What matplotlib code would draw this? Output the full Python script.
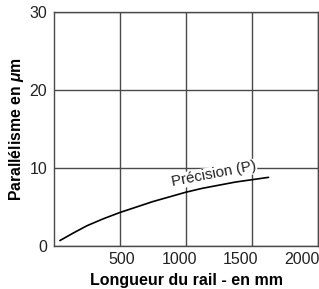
import matplotlib
matplotlib.use("Agg")
import matplotlib.pyplot as plt
import matplotlib.transforms as mtransforms

# courbe de précision
longueur = [45, 150, 250, 375, 500, 625, 750, 875, 1000, 1125, 1250, 1375, 1500, 1625]
parallelisme = [0.7, 1.7, 2.6, 3.5, 4.3, 5.0, 5.7, 6.3, 6.9, 7.4, 7.8, 8.2, 8.5, 8.8]

x_ticks = [500, 1000, 1500, 2000]
y_ticks = [0, 10, 20, 30]

plt.rcParams['font.family'] = ['Liberation Sans', 'DejaVu Sans']
plt.rcParams['mathtext.fontset'] = 'custom'
plt.rcParams['mathtext.it'] = 'Liberation Sans:italic:bold'

fig = plt.figure(figsize=(3.19, 2.89), dpi=100)
ax = fig.add_axes([54 / 319, 43 / 289, 264 / 319, 234 / 289])

grid_col = '#4a4a4a'
ax.set_xlim(0, 2000)
ax.set_ylim(0, 30)
ax.set_xticks(x_ticks)
ax.set_yticks(y_ticks)
ax.grid(True, color=grid_col, linewidth=1.0, zorder=0)
for s in ax.spines.values():
    s.set_color(grid_col)
    s.set_linewidth(1.0)
ax.tick_params(axis='x', length=0, pad=4, labelsize=11.5, colors='#222222')
ax.tick_params(axis='y', length=0, pad=5, labelsize=11.5, colors='#222222')

# les étiquettes de l'axe x sont décalées vers la gauche dans l'original
decalage_px = [1.5, -6.5, -11.5, -16.5]
for lab, dx in zip(ax.get_xticklabels(), decalage_px):
    lab.set_transform(lab.get_transform() +
                      mtransforms.ScaledTranslation(dx / 100, 0, fig.dpi_scale_trans))

ax.plot(longueur, parallelisme, color='black', linewidth=1.2, zorder=3,
        solid_capstyle='round')

ax.text(1210, 9.2, 'Précision (P)', rotation=11, ha='center', va='center',
        fontsize=10.8, color='#222222', zorder=4,
        bbox=dict(facecolor='white', edgecolor='none', pad=0.5))

ax.set_xlabel('Longueur du rail - en mm', fontsize=11.5, fontweight='bold',
              labelpad=5)
ax.set_ylabel(r'Parallélisme en $\mu$m', fontsize=11.3, fontweight='bold',
              labelpad=2.5)

fig.savefig('out.png', dpi=100)
